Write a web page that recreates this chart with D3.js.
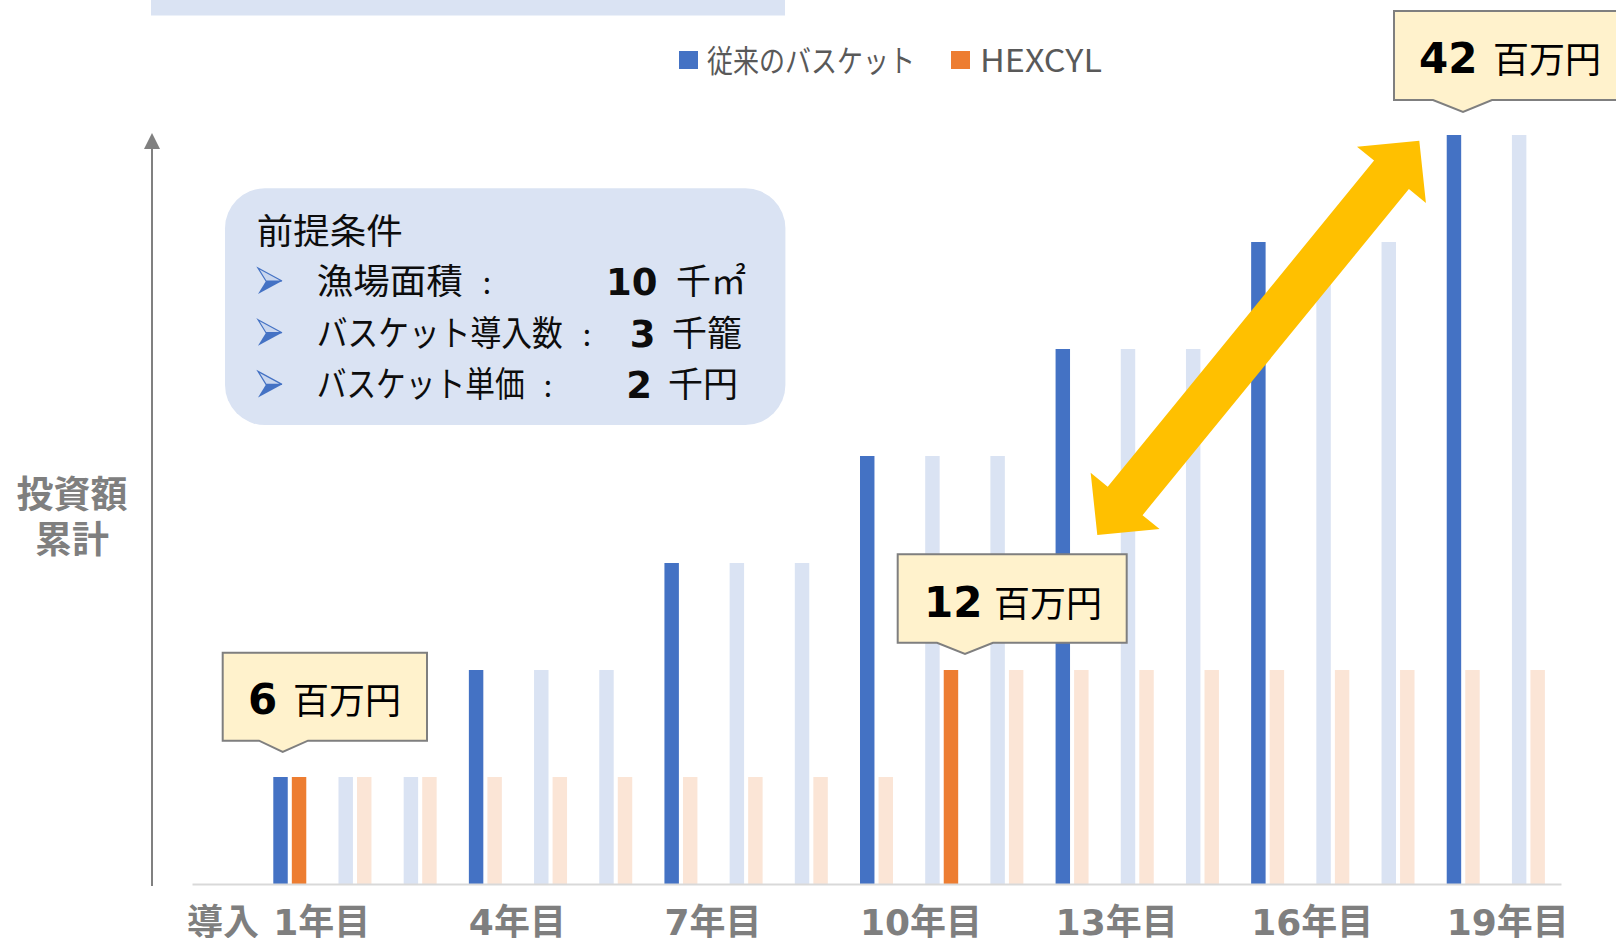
<!DOCTYPE html>
<html>
<head>
<meta charset="utf-8">
<script src="https://cdn.jsdelivr.net/npm/d3@7"></script>
<style>
  body { margin: 0; background: #fff; }
  svg { display: block; font-family: "Noto Sans CJK JP", "Noto Sans", sans-serif; }
</style>
</head>
<body>
<div id="chart"></div>
<script>
// data (百万円, cumulative)
const categories = ["導入", "1年目", "2年目", "3年目", "4年目", "5年目", "6年目", "7年目", "8年目", "9年目", "10年目",
  "11年目", "12年目", "13年目", "14年目", "15年目", "16年目", "17年目", "18年目", "19年目", "20年目"];
const seriesNames = ["従来のバスケット", "HEXCYL"];
const basketValues = [0, 6, 6, 6, 12, 12, 12, 18, 18, 18, 24, 24, 24, 30, 30, 30, 36, 36, 36, 42, 42];
const hexcylValues = [0, 6, 6, 6, 6, 6, 6, 6, 6, 6, 6, 12, 12, 12, 12, 12, 12, 12, 12, 12, 12];
// years where money is actually spent (drawn in full colour)
const basketNew = ["1年目", "4年目", "7年目", "10年目", "13年目", "16年目", "19年目"];
const hexcylNew = ["1年目", "11年目"];
const tickLabels = ["導入", "1年目", "4年目", "7年目", "10年目", "13年目", "16年目", "19年目"];
const conditions = [
  { label: "漁場面積", value: "10", unit: "千㎡" },
  { label: "バスケット導入数", value: "3", unit: "千籠" },
  { label: "バスケット単価", value: "2", unit: "千円" }
];

const width = 1616, height = 938;
const colors = { basket: "#4472c4", basketFade: "#dae3f3", hexcyl: "#ed7d31", hexcylFade: "#fbe5d6" };
const numFont = "'DejaVu Sans', 'Noto Sans CJK JP', sans-serif";

const svg = d3.select("#chart").append("svg")
  .attr("width", width)
  .attr("height", height);

const x = d3.scaleBand()
  .domain(categories)
  .range([192, 1561])
  .paddingInner(0.494)
  .paddingOuter(0.247);

const xSub = d3.scaleBand()
  .domain(seriesNames)
  .range([0, x.bandwidth()])
  .paddingInner(0.22);

const y = d3.scaleLinear()
  .domain([0, 42])
  .range([884, 135]);

// strip at the top (cut off box)
svg.append("rect")
  .attr("x", 151).attr("y", -5)
  .attr("width", 634).attr("height", 20.5)
  .attr("fill", "#dae3f3");

// bars
const rows = categories.map((c, i) => ({ cat: c, basket: basketValues[i], hexcyl: hexcylValues[i] }));

const g = svg.selectAll(".grp")
  .data(rows)
  .enter().append("g")
  .attr("class", "grp")
  .attr("transform", d => "translate(" + x(d.cat) + ",0)");

g.append("rect")
  .attr("x", xSub(seriesNames[0]))
  .attr("y", d => y(d.basket))
  .attr("width", xSub.bandwidth())
  .attr("height", d => y(0) - y(d.basket))
  .attr("fill", d => basketNew.includes(d.cat) ? colors.basket : colors.basketFade);

g.append("rect")
  .attr("x", xSub(seriesNames[1]))
  .attr("y", d => y(d.hexcyl))
  .attr("width", xSub.bandwidth())
  .attr("height", d => y(0) - y(d.hexcyl))
  .attr("fill", d => hexcylNew.includes(d.cat) ? colors.hexcyl : colors.hexcylFade);

// x axis
const xAxis = svg.append("g")
  .attr("transform", "translate(0," + y(0) + ")")
  .call(d3.axisBottom(x).tickValues(tickLabels).tickSize(0).tickSizeOuter(0));

xAxis.select(".domain")
  .attr("stroke", "#d9d9d9")
  .attr("stroke-width", 2);

xAxis.selectAll("text")
  .attr("y", 51)
  .attr("dy", null)
  .attr("x", d => d === "導入" ? -x.bandwidth() / 2 - 21 : -x.bandwidth() / 2)
  .attr("text-anchor", "start")
  .attr("fill", "#7f7f7f")
  .style("font-size", "36px")
  .style("font-weight", "bold")
  .style("font-family", numFont);

// y axis with arrow
const yTop = y.range()[1];
svg.append("line")
  .attr("x1", 152).attr("x2", 152)
  .attr("y1", y(0) + 2).attr("y2", yTop + 10)
  .attr("stroke", "#808080")
  .attr("stroke-width", 2);
svg.append("path")
  .attr("d", "M152," + (yTop - 2) + " L144," + (yTop + 14) + " L160," + (yTop + 14) + " Z")
  .attr("fill", "#808080");

svg.append("text")
  .attr("x", 72).attr("y", 508)
  .attr("text-anchor", "middle")
  .attr("fill", "#7f7f7f")
  .style("font-size", "37px").style("font-weight", "bold")
  .text("投資額");
svg.append("text")
  .attr("x", 72).attr("y", 553)
  .attr("text-anchor", "middle")
  .attr("fill", "#7f7f7f")
  .style("font-size", "37px").style("font-weight", "bold")
  .text("累計");

// legend
const legend = [
  { name: seriesNames[0], color: colors.basket, sx: 679, tx: 707, len: 208 },
  { name: seriesNames[1], color: colors.hexcyl, sx: 951, tx: 980, len: 122 }
];
legend.forEach(l => {
  svg.append("rect")
    .attr("x", l.sx).attr("y", 51)
    .attr("width", 19).attr("height", 18)
    .attr("fill", l.color);
  svg.append("text")
    .attr("x", l.tx).attr("y", 72)
    .attr("fill", "#595959")
    .attr("textLength", l.len)
    .attr("lengthAdjust", "spacingAndGlyphs")
    .style("font-size", "31px")
    .text(l.name);
});

// conditions box
svg.append("rect")
  .attr("x", 225).attr("y", 188.3)
  .attr("width", 560.4).attr("height", 236.7)
  .attr("rx", 40).attr("ry", 40)
  .attr("fill", "#dae3f3");

svg.append("text")
  .attr("x", 256.7).attr("y", 244)
  .attr("fill", "#0d0d0d")
  .attr("textLength", 146)
  .attr("lengthAdjust", "spacingAndGlyphs")
  .style("font-size", "35px")
  .text("前提条件");

const rowBase = [294, 345.7, 397.4];
const labelLen = [146, 246, 208];
const colonX = [487, 587, 548];
const valueEnd = [657.5, 655.5, 652];
const unitStart = [676, 672, 668];

conditions.forEach((c, i) => {
  const cy = rowBase[i] - 13;
  // ➢ style bullet
  svg.append("path")
    .attr("d", "M258," + (cy - 13) + " L282," + cy + " L266," + cy + " Z")
    .attr("fill", "#c9d6ee").attr("stroke", "#4472c4").attr("stroke-width", 1.2);
  svg.append("path")
    .attr("d", "M266," + cy + " L282," + cy + " L258," + (cy + 13) + " Z")
    .attr("fill", "#4472c4");
  svg.append("text")
    .attr("x", 316.7).attr("y", rowBase[i])
    .attr("fill", "#0d0d0d")
    .attr("textLength", labelLen[i])
    .attr("lengthAdjust", "spacingAndGlyphs")
    .style("font-size", "35px")
    .text(c.label);
  svg.append("text")
    .attr("x", colonX[i]).attr("y", rowBase[i])
    .attr("text-anchor", "middle")
    .attr("fill", "#0d0d0d")
    .style("font-size", "30px")
    .text(":");
  svg.append("text")
    .attr("x", valueEnd[i]).attr("y", rowBase[i] + 1)
    .attr("text-anchor", "end")
    .attr("fill", "#0d0d0d")
    .style("font-size", "37px").style("font-weight", "bold")
    .style("font-family", numFont)
    .text(c.value);
  svg.append("text")
    .attr("x", unitStart[i]).attr("y", rowBase[i])
    .attr("fill", "#0d0d0d")
    .style("font-size", "35px")
    .text(c.unit);
});

// yellow double arrow
function doubleArrow(ax, ay, bx, by, shaftW, headW, headL) {
  const dx = bx - ax, dy = by - ay, len = Math.hypot(dx, dy);
  const ux = dx / len, uy = dy / len, nx = -uy, ny = ux;
  const p = (t, s) => [ax + ux * t + nx * s, ay + uy * t + ny * s];
  const pts = [
    p(0, 0), p(headL, headW / 2), p(headL, shaftW / 2),
    p(len - headL, shaftW / 2), p(len - headL, headW / 2), p(len, 0),
    p(len - headL, -headW / 2), p(len - headL, -shaftW / 2),
    p(headL, -shaftW / 2), p(headL, -headW / 2)
  ];
  return "M" + pts.map(q => q.join(",")).join("L") + "Z";
}
svg.append("path")
  .attr("d", doubleArrow(1097.3, 535, 1419.3, 140.7, 45, 89, 44))
  .attr("fill", "#ffc000");

// callouts
const callouts = [
  { x0: 222.7, y0: 652.7, w: 204.3, h: 88, tipX: 282.7, tipY: 752, bl: 259, br: 308, num: "6", numX: 248, unitX: 293, base: 714 },
  { x0: 897.7, y0: 554.3, w: 229, h: 88.4, tipX: 965, tipY: 654, bl: 937, br: 993, num: "12", numX: 924, unitX: 994, base: 617 },
  { x0: 1394, y0: 11, w: 240, h: 89, tipX: 1463, tipY: 112, bl: 1433, br: 1492, num: "42", numX: 1419, unitX: 1493, base: 73 }
];
callouts.forEach(c => {
  const b = c.y0 + c.h;
  svg.append("path")
    .attr("d", "M" + c.x0 + "," + c.y0 + " H" + (c.x0 + c.w) + " V" + b + " H" + c.br +
      " L" + c.tipX + "," + c.tipY + " L" + c.bl + "," + b + " H" + c.x0 + " Z")
    .attr("fill", "#fff2cc")
    .attr("stroke", "#7f7f7f")
    .attr("stroke-width", 2);
  svg.append("text")
    .attr("x", c.numX).attr("y", c.base)
    .attr("fill", "#000")
    .style("font-size", "42px").style("font-weight", "bold")
    .style("font-family", numFont)
    .text(c.num);
  svg.append("text")
    .attr("x", c.unitX).attr("y", c.base)
    .attr("fill", "#000")
    .style("font-size", "36px")
    .text("百万円");
});
</script>
</body>
</html>
